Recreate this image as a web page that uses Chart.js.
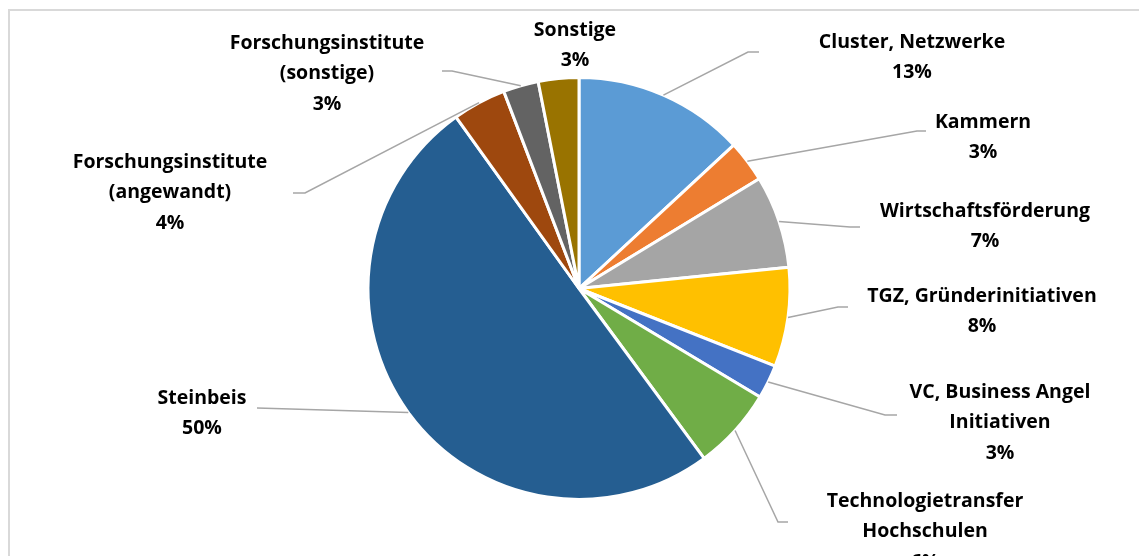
<!DOCTYPE html>
<html>
<head>
<meta charset="utf-8">
<script src="https://cdn.jsdelivr.net/npm/chart.js@4/dist/chart.umd.min.js"></script>
<style>
  html, body { margin: 0; padding: 0; background: #fff; }
  #wrap { width: 1139px; height: 556px; position: relative; }
</style>
</head>
<body>
<div id="wrap"><canvas id="pie"></canvas></div>
<script>
// Anteile (in %), im Uhrzeigersinn ab 12 Uhr
const categories = [
  'Cluster, Netzwerke',
  'Kammern',
  'Wirtschaftsförderung',
  'TGZ, Gründerinitiativen',
  'VC, Business Angel\nInitiativen',
  'Technologietransfer\nHochschulen',
  'Steinbeis',
  'Forschungsinstitute\n(angewandt)',
  'Forschungsinstitute\n(sonstige)',
  'Sonstige'
];
const shares = [13.1, 3.2, 7.1, 7.6, 2.6, 6.3, 50.2, 4.1, 2.7, 3.1];
const sliceColors = ['#5b9bd5', '#ed7d31', '#a5a5a5', '#ffc000', '#4472c4',
                     '#70ad47', '#255e91', '#9e480e', '#636363', '#997300'];

// Lage der Beschriftungen (Textmitte, erste Zeile) und Knick der Führungslinie
const labelAt = [[912, 42], [983, 122], [985, 211], [982, 296], [1000, 392],
                 [925, 501], [202, 398], [170, 162], [327, 43], [575, 30]];
const leaderBend = [[748, 52, 759], [917, 131, 926], [850, 227, 860], [838, 307, 848],
                    [885, 415, 897], [778, 522, 788], [257, 408, 257], [305, 193, 293],
                    [452, 71, 442], null];

const frame = {
  id: 'frame',
  beforeDraw(chart) {
    const c = chart.ctx;
    c.save();
    c.fillStyle = '#fff';
    c.fillRect(0, 0, chart.width, chart.height);
    c.strokeStyle = '#d9d9d9';
    c.lineWidth = 2;
    c.strokeRect(9, 10, 1300, 700);
    c.restore();
  }
};

const sliceLabels = {
  id: 'sliceLabels',
  afterDatasetsDraw(chart) {
    const c = chart.ctx;
    const arcs = chart.getDatasetMeta(0).data;
    const data = chart.data.datasets[0].data;
    const total = data.reduce((a, b) => a + b, 0);
    c.save();
    // Führungslinien
    c.strokeStyle = '#a6a6a6';
    c.lineWidth = 1.5;
    arcs.forEach((arc, i) => {
      const b = leaderBend[i];
      if (!b) return;
      const mid = (arc.startAngle + arc.endAngle) / 2;
      const sx = arc.x + Math.cos(mid) * arc.outerRadius;
      const sy = arc.y + Math.sin(mid) * arc.outerRadius;
      c.beginPath();
      c.moveTo(sx, sy);
      c.lineTo(b[0], b[1]);
      c.lineTo(b[2], b[1]);
      c.stroke();
    });
    // Texte
    c.fillStyle = '#000';
    c.font = "bold 19.5px 'Open Sans', sans-serif";
    c.textAlign = 'center';
    c.textBaseline = 'middle';
    arcs.forEach((arc, i) => {
      const lines = chart.data.labels[i].split('\n');
      lines.push(Math.round(data[i] / total * 100) + '%');
      const [x, y] = labelAt[i];
      lines.forEach((t, k) => c.fillText(t, x, y + k * 30.5));
    });
    c.restore();
  }
};

new Chart(document.getElementById('pie'), {
  type: 'pie',
  data: {
    labels: categories,
    datasets: [{
      data: shares,
      backgroundColor: sliceColors,
      borderColor: '#ffffff',
      borderWidth: 3,
    }],
  },
  options: {
    responsive: true,
    maintainAspectRatio: false,
    animation: false,
    layout: { padding: { top: 76, bottom: 55, left: 366, right: 347 } },
    plugins: {
      legend: { display: false },
      tooltip: { enabled: false },
    },
  },
  plugins: [frame, sliceLabels],
});
</script>
</body>
</html>
